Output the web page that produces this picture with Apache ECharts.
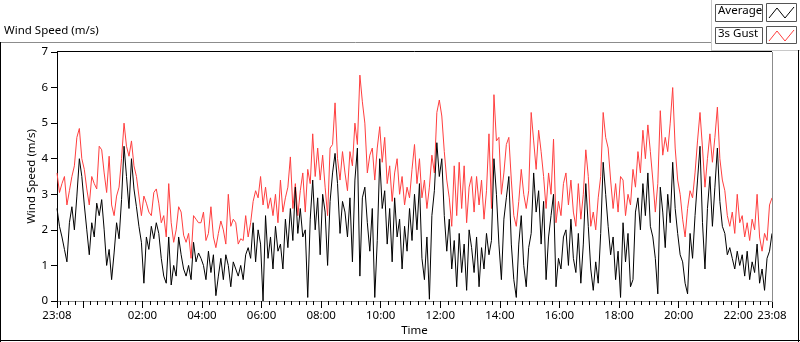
<!DOCTYPE html>
<html>
<head>
<meta charset="utf-8">
<script src="https://cdn.jsdelivr.net/npm/echarts@6/dist/echarts.min.js"></script>
<style>
  html, body { margin: 0; padding: 0; background: #fff; }
  #chart { width: 800px; height: 342px; }
</style>
</head>
<body>
<div id="chart"></div>
<script>
// one sample every 5 minutes, starting 23:08
const STEP = 5
const START = '23:08'

// 3s gust (m/s)
const gust = [
  3.6, 3.05, 3.3, 3.5, 2.7, 3.1, 3.5, 3.8, 4.6, 4.85,
  4.0, 3.7, 3.15, 2.7, 3.5, 3.3, 3.15, 4.35, 4.25, 3.6,
  3.05, 4.07, 2.7, 2.4, 2.95, 3.2, 4.0, 5.0, 4.35, 4.07,
  4.5, 3.8, 3.5, 2.95, 2.4, 2.95, 2.75, 2.5, 2.4, 3.05,
  3.15, 2.75, 2.2, 2.4, 1.8, 3.3, 2.2, 1.65, 2.0, 2.65,
  2.5, 1.85, 1.65, 1.9, 1.2, 2.4, 2.3, 2.2,
  2.2, 2.5, 1.7, 1.9, 2.65, 1.8, 1.5, 1.9, 2.25, 2.0,
  1.6, 3.0, 2.1, 2.3, 2.2, 1.6, 1.75, 1.7, 2.4, 1.8,
  2.2, 2.8, 3.1, 2.9, 3.5, 2.7, 3.2, 2.6, 2.9, 2.4,
  3.0, 2.2, 3.4, 2.5, 2.9, 3.2, 4.05, 2.6, 3.3, 2.4,
  3.1, 3.6, 2.5, 3.7, 3.3, 4.7, 3.5, 4.3, 3.4, 4.1,
  3.2, 2.4, 4.3, 4.4, 5.57, 4.0, 3.4, 4.2,
  3.6, 3.1, 4.2, 3.8, 5.0, 4.4, 6.35, 5.6, 5.0, 3.6,
  4.1, 4.3, 3.4, 4.3, 4.9, 3.9, 4.6, 3.3, 3.8, 2.8,
  3.6, 4.0, 3.0, 3.5, 2.7, 3.2, 2.9, 3.7, 4.4, 3.3,
  4.0, 2.9, 3.4, 2.6, 3.2, 4.1, 3.6, 5.3, 5.65, 5.2,
  4.2, 3.4, 2.9, 2.1, 3.8, 2.4, 3.9, 2.6, 3.8, 2.2,
  3.2, 3.5, 2.5, 3.5, 2.7, 3.4, 2.3, 3.1,
  4.7, 2.6, 5.8, 4.5, 4.6, 3.0, 3.6, 4.4, 4.6, 3.4,
  2.4, 2.1, 2.8, 3.7, 3.0, 2.6, 3.1, 5.3, 4.5, 3.7,
  4.8, 4.2, 3.5, 2.6, 3.6, 3.0, 4.55, 2.2, 2.8, 2.4,
  3.3, 3.6, 2.7, 3.4, 2.5, 2.1, 3.3, 2.3, 3.0, 4.25,
  3.5, 2.1, 2.5, 2.0, 2.9, 3.5, 5.3, 4.6, 4.3, 3.4,
  2.6, 3.3, 2.5, 3.5, 3.4, 2.4, 3.0, 2.7,
  3.7, 3.2, 4.2, 3.6, 4.8, 4.0, 4.95, 4.2, 3.4, 2.5,
  3.3, 5.35, 4.1, 4.6, 4.2, 5.0, 6.0, 4.3, 3.4, 3.0,
  2.3, 1.8, 2.6, 3.1, 2.9, 3.6, 4.5, 5.3, 4.3, 3.2,
  4.0, 4.7, 3.9, 4.6, 5.45, 4.0, 3.4, 3.1, 2.4, 2.1,
  2.5, 1.9, 3.0, 2.2, 2.4, 1.8, 2.2, 1.7, 2.3, 2.0,
  3.0, 1.8, 1.4, 1.9, 1.7, 2.7, 2.9
]

// average (m/s)
const average = [
  2.6, 2.1, 1.8, 1.45, 1.1, 2.2, 2.65, 2.0, 2.95, 4.0,
  3.5, 2.7, 2.0, 1.3, 2.2, 1.8, 2.75, 2.4, 2.85, 2.0,
  1.0, 1.45, 0.6, 1.35, 2.2, 1.75, 2.85, 4.35, 3.5, 2.6,
  4.0, 3.15, 2.65, 2.1, 1.65, 0.5, 1.8, 1.45, 2.1, 1.75,
  2.2, 1.9, 1.2, 0.7, 0.5, 1.8, 0.45, 1.0, 0.7, 1.8,
  1.3, 0.9, 0.7, 1.0, 0.6, 1.65, 1.1, 1.35,
  1.2, 1.0, 0.6, 1.4, 0.8, 1.3, 0.15, 0.7, 1.2, 0.6,
  1.3, 1.0, 0.4, 1.1, 0.9, 0.7, 1.0, 0.6, 1.3, 1.5,
  1.2, 2.2, 1.1, 2.0, 1.6, 0.0, 2.4, 1.2, 1.8, 0.9,
  2.1, 1.4, 1.6, 0.9, 2.3, 1.5, 2.6, 1.7, 3.2, 1.9,
  2.6, 1.8, 2.0, 0.1, 2.3, 3.4, 2.0, 2.9, 1.3, 3.0,
  2.5, 1.0, 2.8, 3.6, 4.15, 3.3, 1.9, 2.8,
  2.5, 1.8, 2.9, 1.1, 3.4, 4.3, 0.7, 2.9, 3.2, 2.2,
  1.4, 2.6, 0.1, 1.7, 4.0, 2.6, 3.1, 1.6, 2.6, 1.1,
  2.9, 1.8, 2.3, 0.9, 2.1, 1.4, 2.6, 1.7, 3.0, 2.0,
  3.3, 1.2, 0.6, 1.8, 0.05, 2.4, 3.1, 4.45, 3.5, 4.0,
  2.4, 1.4, 2.3, 0.9, 1.7, 0.4, 1.9, 0.8, 1.6, 0.3,
  2.0, 1.5, 0.8, 1.8, 0.4, 1.5, 0.9, 1.9,
  1.3, 1.7, 4.0, 3.0, 1.6, 0.6, 2.3, 2.9, 3.5, 1.6,
  0.6, 0.1, 1.6, 2.4, 1.0, 0.4, 1.5, 1.9, 3.6, 2.5,
  3.1, 1.6, 2.8, 0.6, 1.8, 2.4, 3.0, 0.4, 1.2, 0.9,
  1.8, 2.0, 1.0, 2.3, 1.2, 0.8, 1.9, 0.5, 1.6, 3.3,
  2.1, 0.9, 0.3, 1.1, 0.5, 1.9, 3.9, 3.0, 2.1, 1.3,
  1.8, 0.6, 1.4, 0.1, 2.2, 1.1, 1.9, 0.4,
  0.6, 2.5, 2.9, 2.0, 3.3, 2.4, 3.6, 2.1, 1.8, 1.2,
  0.2, 3.2, 2.5, 1.5, 3.0, 2.2, 3.9, 2.6, 1.9, 1.3,
  1.1, 0.5, 0.2, 1.9, 1.2, 2.4, 3.4, 4.35, 2.2, 0.9,
  2.6, 3.5, 2.1, 3.2, 4.3, 2.8, 2.1, 1.9, 1.3, 1.5,
  1.2, 0.9, 1.4, 1.0, 1.3, 0.7, 1.4, 0.6, 1.1, 0.8,
  1.6, 0.5, 0.9, 0.3, 1.2, 1.4, 1.9
]

// time axis labels, 00:00 gets a tick but no label
const timeLabels = ['23:08', '02:00', '04:00', '06:00', '08:00', '10:00', '12:00',
  '14:00', '16:00', '18:00', '20:00', '22:00', '23:08']
const majorTicks = ['23:08', '00:00', '02:00', '04:00', '06:00', '08:00', '10:00', '12:00',
  '14:00', '16:00', '18:00', '20:00', '22:00', '23:08']
const yTicks = [0, 1, 2, 3, 4, 5, 6, 7]

const SPAN = 1440
// minutes after the start time; last label is the end of the day span
const toMin = (s, i, arr) => {
  if (i === arr.length - 1) return SPAN
  const p = s.split(':'), q = START.split(':')
  return ((+p[0] * 60 + +p[1]) - (+q[0] * 60 + +q[1]) + SPAN) % SPAN
}
const labelPos = timeLabels.map(toMin)
const majorPos = majorTicks.map(toMin)
const minorPos = []
for (let m = 7; m < SPAN; m += 15) minorPos.push(m)   // quarter hours

const gustData = gust.map((v, i) => [i * STEP, v])
const avgData = average.map((v, i) => [i * STEP, v])

const FONT = 'Noto Sans'
const chart = echarts.init(document.getElementById('chart'), null, { renderer: 'canvas' })

// plot box
const L = 57, T = 52, R = 772, B = 302

chart.setOption({
  animation: false,
  backgroundColor: '#fff',
  textStyle: { fontFamily: FONT },
  grid: { left: L, top: T, right: 800 - R, bottom: 342 - B },
  xAxis: [
    {
      type: 'value', min: 0, max: SPAN,
      name: 'Time', nameLocation: 'middle', nameGap: 24, nameMoveOverlap: false,
      nameTextStyle: { color: '#000', fontSize: 11.5, fontFamily: FONT },
      axisLine: { lineStyle: { color: '#8c8c8c', width: 1 } },
      axisTick: { show: true, inside: false, length: 7, customValues: majorPos, lineStyle: { color: '#000' } },
      axisLabel: {
        customValues: labelPos, margin: 9, color: '#000', fontSize: 11.5, fontFamily: FONT,
        formatter: v => timeLabels[labelPos.indexOf(v)] || ''
      },
      splitLine: { show: false }
    },
    {
      type: 'value', min: 0, max: SPAN, position: 'bottom', gridIndex: 0,
      axisLine: { show: false },
      axisTick: { show: true, inside: false, length: 4, customValues: minorPos, lineStyle: { color: '#000' } },
      axisLabel: { show: false },
      splitLine: { show: false }
    }
  ],
  yAxis: {
    type: 'value', min: 0, max: 7, interval: 1,
    name: 'Wind Speed (m/s)', nameLocation: 'middle', nameGap: 19, nameMoveOverlap: false,
    nameTextStyle: { color: '#000', fontSize: 11.5, fontFamily: FONT },
    axisLine: { show: true, lineStyle: { color: '#000' } },
    axisTick: { show: true, inside: false, length: 6, customValues: yTicks, lineStyle: { color: '#000' } },
    axisLabel: { margin: 9, color: '#000', fontSize: 11.5, fontFamily: FONT },
    splitLine: { show: false }
  },
  series: [
    {
      name: '3s Gust', type: 'line', data: gustData, showSymbol: false,
      lineStyle: { color: '#ff3f3f', width: 1 }, itemStyle: { color: '#ff3f3f' }
    },
    {
      name: 'Average', type: 'line', data: avgData, showSymbol: false,
      lineStyle: { color: '#000', width: 1 }, itemStyle: { color: '#000' }
    }
  ],
  graphic: [
    // panel title + frame
    { type: 'text', left: 4, top: 25, style: { text: 'Wind Speed (m/s)', font: '11.5px "' + FONT + '"', fill: '#000' } },
    { type: 'line', shape: { x1: 0, y1: 42.5, x2: 711, y2: 42.5 }, style: { stroke: '#8c8c8c', lineWidth: 1 } },
    { type: 'line', shape: { x1: 711.5, y1: 0, x2: 711.5, y2: 50 }, style: { stroke: '#c8c8c8', lineWidth: 1 } },
    { type: 'line', shape: { x1: 711, y1: 50.5, x2: 800, y2: 50.5 }, style: { stroke: '#c8c8c8', lineWidth: 1 } },
    { type: 'line', shape: { x1: 0.5, y1: 42, x2: 0.5, y2: 342 }, style: { stroke: '#000', lineWidth: 1 } },
    { type: 'line', shape: { x1: 0, y1: 340.5, x2: 800, y2: 340.5 }, style: { stroke: '#000', lineWidth: 1 } },
    { type: 'line', shape: { x1: 798.5, y1: 50, x2: 798.5, y2: 342 }, style: { stroke: '#000', lineWidth: 1 } },
    // plot box top / right edges
    { type: 'line', shape: { x1: L, y1: T - 0.5, x2: R, y2: T - 0.5 }, style: { stroke: '#000', lineWidth: 1 }, z: 10 },
    { type: 'line', shape: { x1: R + 0.5, y1: T, x2: R + 0.5, y2: B }, style: { stroke: '#8c8c8c', lineWidth: 1 }, z: 10 },
    // legend
    { type: 'rect', shape: { x: 715.5, y: 4.5, width: 47, height: 17 }, style: { fill: '#fff', stroke: '#555', lineWidth: 1 } },
    { type: 'text', left: 718, top: 5, style: { text: 'Average', font: '11.5px "' + FONT + '"', fill: '#000' } },
    { type: 'rect', shape: { x: 766.5, y: 3.5, width: 30, height: 18 }, style: { fill: '#fff', stroke: '#555', lineWidth: 1 } },
    { type: 'polyline', shape: { points: [[769, 18], [777, 8], [785, 18], [794, 7]] }, style: { stroke: '#000', lineWidth: 1, fill: null } },
    { type: 'rect', shape: { x: 715.5, y: 27.5, width: 47, height: 16 }, style: { fill: '#fff', stroke: '#555', lineWidth: 1 } },
    { type: 'text', left: 718, top: 28, style: { text: '3s Gust', font: '11.5px "' + FONT + '"', fill: '#000' } },
    { type: 'rect', shape: { x: 766.5, y: 26.5, width: 30, height: 17 }, style: { fill: '#fff', stroke: '#555', lineWidth: 1 } },
    { type: 'polyline', shape: { points: [[769, 41], [777, 31], [785, 41], [794, 30]] }, style: { stroke: '#ff3f3f', lineWidth: 1, fill: null } }
  ]
})
</script>
</body>
</html>
